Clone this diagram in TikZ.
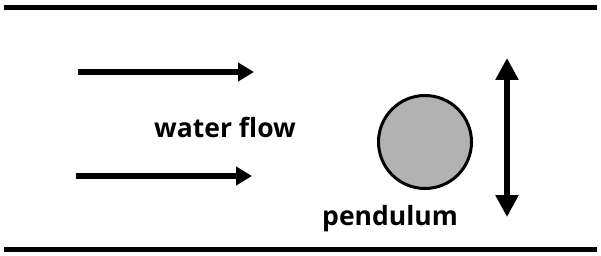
\documentclass[tikz,border=0pt]{standalone}
\usepackage{fontspec}
\setsansfont{Open Sans}
\usetikzlibrary{arrows.meta}
\begin{document}
\begin{tikzpicture}[x=1pt,y=-1pt,
  wall/.style={line width=5pt},
  flow/.style={line width=6pt,-{Triangle[length=16pt,width=18pt]}},
  swing/.style={line width=5.5pt,{Triangle[length=22pt,width=22pt]}-{Triangle[length=22pt,width=22pt]}},
  lbl/.style={font=\sffamily\bfseries\fontsize{26.5}{30}\selectfont,inner sep=0pt}]
\useasboundingbox (0,0) rectangle (601,256);
\coordinate (tl) at (4,8); \coordinate (tr) at (597,8);
\coordinate (bl) at (4,249); \coordinate (br) at (597,249);
\draw[wall] (tl) -- (tr);
\draw[wall] (bl) -- (br);
\coordinate (a1s) at (78,72); \coordinate (a1e) at (254,72);
\coordinate (a2s) at (76,176); \coordinate (a2e) at (252,176);
\draw[flow] (a1s) -- (a1e);
\draw[flow] (a2s) -- (a2e);
\node[lbl] (wf) at (225,127) {water flow};
\node[circle,draw,line width=3pt,fill={rgb,255:red,178;green,178;blue,178},minimum size=93pt,inner sep=0pt] (pend) at (425,142) {};
\coordinate (st) at (507,58); \coordinate (sb) at (507,217);
\draw[swing] (st) -- (sb);
\node[lbl] (pl) at (390,219) {pendulum};
\end{tikzpicture}
\end{document}
